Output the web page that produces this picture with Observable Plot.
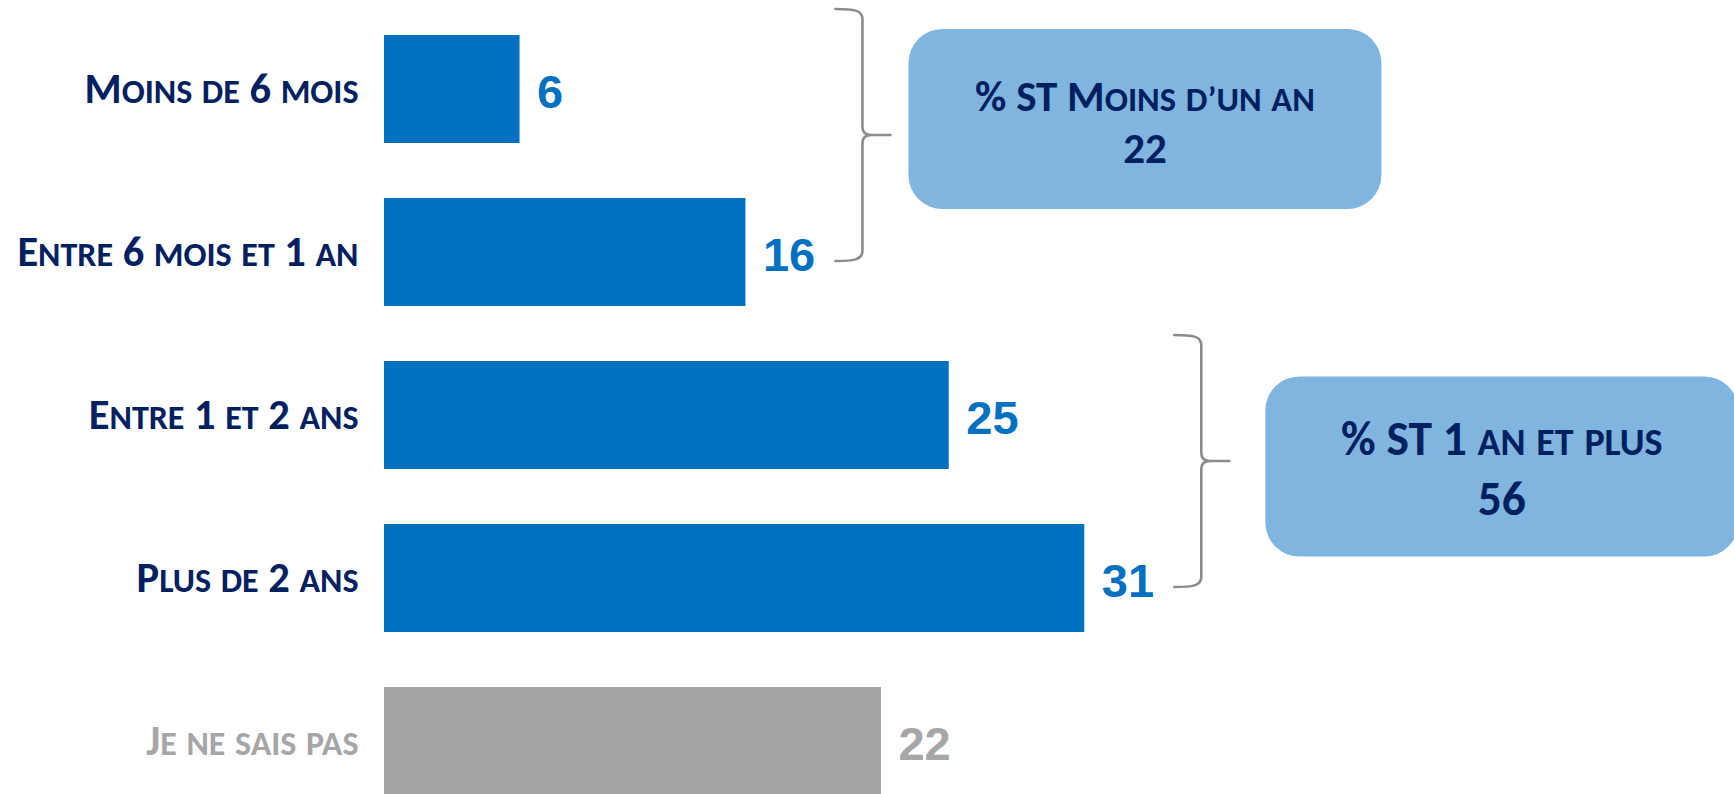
<!DOCTYPE html>
<html><head><meta charset="utf-8">
<script src="https://cdn.jsdelivr.net/npm/d3@7"></script>
<script src="https://cdn.jsdelivr.net/npm/@observablehq/plot@0.6"></script>
<style>
html,body{margin:0;padding:0;background:#fff;overflow:hidden}
#chart svg{display:block}
</style></head><body><div id="chart"></div>
<script>
// ---- data ----
const categories = ["Moins de 6 mois", "Entre 6 mois et 1 an", "Entre 1 et 2 ans", "Plus de 2 ans", "Je ne sais pas"];
const values = [6, 16, 25, 31, 22];
const isDontKnow = [false, false, false, false, true];
const groupLabels = ["% ST Moins d’un an", "% ST 1 an et plus"];
const groupTotals = [22, 56];
const groupMembers = [["Moins de 6 mois", "Entre 6 mois et 1 an"], ["Entre 1 et 2 ans", "Plus de 2 ans"]];

// ---- styles ----
const BLUE = "#0070C0", GREY = "#A5A5A5", NAVY = "#002060", GREY_TXT = "#A6A6A6";
const BOX_FILL = "#80B5DF", BRACE = "#8C8C8C";
const LABEL_FONT = "Carlito, Calibri, Lato, sans-serif";
const VALUE_FONT = "Arial, 'Liberation Sans', sans-serif";
const SC = 0.8; // small-caps ratio

const rows = categories.map((c, i) => ({category: c, value: values[i], dk: isDontKnow[i]}));

const plot = Plot.plot({
  width: 1734, height: 794, margin: 0,
  style: {background: "white", overflow: "hidden"},
  color: {type: "identity"},
  x: {domain: [0, 60], range: [384, 384 + 60 * 22.59], axis: null},
  y: {domain: categories, range: [5.4, 824.2], paddingInner: 0.337, paddingOuter: 0.1685, axis: null},
  marks: [
    Plot.barX(rows, {x: "value", y: "category", fill: d => d.dk ? GREY : BLUE}),
    Plot.text(rows, {x: "value", y: "category", text: d => String(d.value), textAnchor: "start", dx: 17, dy: 3,
      fill: d => d.dk ? GREY_TXT : BLUE, fontSize: 47, fontWeight: "bold", fontFamily: VALUE_FONT}),
    Plot.text(rows, {x: 0, y: "category", text: "category", textAnchor: "end", dx: -26, dy: 0,
      fill: d => d.dk ? GREY_TXT : NAVY, fontSize: 42.5, fontWeight: "bold", fontFamily: LABEL_FONT, className: "cat-label"})
  ]
});
document.getElementById("chart").appendChild(plot);

function smallCaps(sel) {
  sel.each(function() {
    const t = d3.select(this);
    const s = t.text();
    t.text(null);
    const runs = s.match(/([a-zà-ÿ’]+|[^a-zà-ÿ’]+)/g) || [];
    runs.forEach(r => {
      const lower = /[a-zà-ÿ’]/.test(r[0]);
      const sp = t.append("tspan").text(r.toUpperCase());
      if (lower) sp.attr("font-size", SC + "em");
    });
  });
}
smallCaps(d3.select(plot).selectAll("g.cat-label text"));

// ---- annotations: braces + summary boxes, placed with the plot's scales ----
const xs = plot.scale("x"), ys = plot.scale("y");
const bw = ys.bandwidth;
const svg = d3.select(plot);
const ann = svg.append("g").attr("class", "annotations");
const boxDy = [-16, 5.5], boxGap = [18, 36], boxFont = [43, 47.5], line1 = [-22, -27], line2 = [30, 33];
groupMembers.forEach((members, k) => {
  const maxV = d3.max(members, m => values[categories.indexOf(m)]);
  const xe = xs.apply(maxV) + 90, xv = xe + 27, xt = xe + 55;
  const yt = ys.apply(members[0]) - 26;
  const yb = ys.apply(members[members.length - 1]) + bw / 2 + 9;
  const ym = (yt + yb) / 2;
  const p = d3.path();
  p.moveTo(xe, yt);
  p.bezierCurveTo(xe + 18, yt, xv, yt + 1, xv, yt + 10);
  p.lineTo(xv, ym - 8);
  p.quadraticCurveTo(xv, ym, xv + 9, ym);
  p.lineTo(xt, ym);
  p.moveTo(xv + 9, ym);
  p.quadraticCurveTo(xv, ym, xv, ym + 8);
  p.lineTo(xv, yb - 10);
  p.bezierCurveTo(xv, yb - 1, xe + 18, yb, xe, yb);
  ann.append("path").attr("d", p.toString()).attr("fill", "none")
    .attr("stroke", BRACE).attr("stroke-width", 2.6).attr("stroke-linecap", "round");
  const bx = xt + boxGap[k], bwid = 473, bh = 180, cy = ym + boxDy[k];
  ann.append("rect").attr("x", bx).attr("y", cy - bh / 2).attr("width", bwid).attr("height", bh)
    .attr("rx", 34).attr("fill", BOX_FILL);
  const cx = bx + bwid / 2;
  const t1 = ann.append("text").attr("x", cx).attr("y", cy + line1[k]).attr("dy", "0.32em")
    .attr("text-anchor", "middle").attr("fill", NAVY).attr("font-family", LABEL_FONT)
    .attr("font-weight", "bold").attr("font-size", boxFont[k]).text(groupLabels[k]);
  smallCaps(t1);
  ann.append("text").attr("x", cx).attr("y", cy + line2[k]).attr("dy", "0.32em")
    .attr("text-anchor", "middle").attr("fill", NAVY).attr("font-family", LABEL_FONT)
    .attr("font-weight", "bold").attr("font-size", boxFont[k]).text(String(groupTotals[k]));
});
</script></body></html>
